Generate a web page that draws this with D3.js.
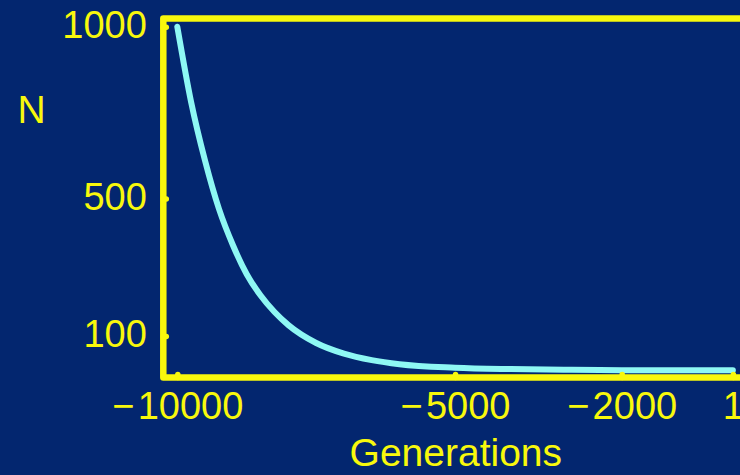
<!DOCTYPE html>
<html>
<head>
<meta charset="utf-8">
<script src="https://cdn.jsdelivr.net/npm/d3@7"></script>
<style>
  html, body { margin: 0; padding: 0; background: #03266f; overflow: hidden; }
  svg { display: block; }
</style>
</head>
<body>
<svg id="chart" width="740" height="475"></svg>
<script>
// Population size N over generations (decline from 1000 toward a small size)
const generations = [-10000, -9750, -9500, -9250, -9000, -8750, -8500, -8250, -8000,
                     -7500, -7000, -6500, -6000, -5000, -4000, -3000, -2000, -1000, 1];
const popSize     = [1000, 780, 610, 470, 365, 280, 218, 170, 132,
                     80, 49, 30, 18, 8, 4, 2, 1, 1, 1];
const xTicks = [-10000, -5000, -2000, 1];
const yTicks = [100, 500, 1000];
const xLabel = "Generations";
const yLabel = "N";

const BG = "#03266f", YELLOW = "#f8f80c", CYAN = "#8ef8f4";
const FONT = "'Liberation Sans', Arial, Helvetica, sans-serif";

const svg = d3.select("#chart");
svg.append("rect").attr("width", 740).attr("height", 475).attr("fill", BG);

const x = d3.scaleLinear().domain([-10252, 250]).range([163.3, 746.7]);
const y = d3.scaleLinear().domain([-20.4, 1024]).range([377.5, 18.5]);

// Plot frame
svg.append("rect")
  .attr("x", x.range()[0]).attr("y", y.range()[1])
  .attr("width", x.range()[1] - x.range()[0])
  .attr("height", y.range()[0] - y.range()[1])
  .attr("fill", "none").attr("stroke", YELLOW).attr("stroke-width", 6.5)
  .attr("stroke-linejoin", "round");

// Curve
const line = d3.line()
  .x((d, i) => x(generations[i]))
  .y(d => y(d))
  .curve(d3.curveMonotoneX);
svg.append("path")
  .datum(popSize)
  .attr("d", line)
  .attr("fill", "none").attr("stroke", CYAN).attr("stroke-width", 6)
  .attr("stroke-linecap", "round").attr("stroke-linejoin", "round");

function styleAxis(g) {
  g.select(".domain").remove();
  g.selectAll(".tick line").attr("stroke", YELLOW).attr("stroke-width", 5.5)
    .attr("stroke-linecap", "round");
  g.selectAll(".tick text").attr("fill", YELLOW).style("font-family", FONT)
    .style("font-size", "38px");
}

// Bottom axis
svg.append("g")
  .attr("transform", `translate(0,${y.range()[0]})`)
  .call(d3.axisBottom(x).tickValues(xTicks).tickSize(-3).tickPadding(15)
    .tickFormat(d => d < 0 ? "\u2212\u200A" + Math.abs(d) : String(d)))
  .call(styleAxis);

// Left axis
svg.append("g")
  .attr("transform", `translate(${x.range()[0]},0)`)
  .call(d3.axisLeft(y).tickValues(yTicks).tickSize(-3).tickPadding(16.5)
    .tickFormat(d3.format("d")))
  .call(styleAxis)
  .call(g => g.selectAll(".tick text").attr("dy", "0.28em"));

// Axis titles
svg.append("text")
  .attr("x", 455.8).attr("y", 465.7)
  .attr("text-anchor", "middle")
  .attr("fill", YELLOW).style("font-family", FONT).style("font-size", "39px")
  .text(xLabel);

svg.append("text")
  .attr("x", 31.7).attr("y", 122.5)
  .attr("text-anchor", "middle")
  .attr("fill", YELLOW).style("font-family", FONT).style("font-size", "39px")
  .text(yLabel);
</script>
</body>
</html>
